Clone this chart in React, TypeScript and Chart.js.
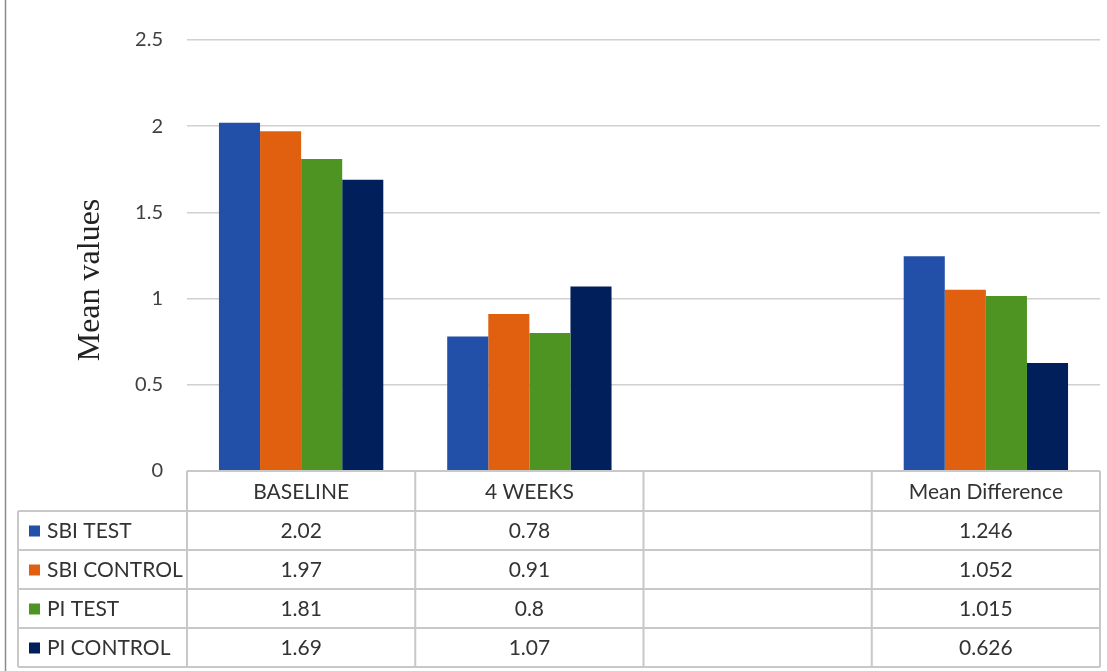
import React, { useEffect, useRef } from 'react';
import { Chart, registerables } from 'chart.js';

Chart.register(...registerables);

const categories = ['BASELINE', '4 WEEKS', '', 'Mean Difference'];
const seriesNames = ['SBI TEST', 'SBI CONTROL', 'PI TEST', 'PI CONTROL'];
const sbiTest = [2.02, 0.78, null, 1.246];
const sbiControl = [1.97, 0.91, null, 1.052];
const piTest = [1.81, 0.8, null, 1.015];
const piControl = [1.69, 1.07, null, 0.626];
const seriesColors = ['#2250A8', '#E06010', '#4E9423', '#001F5B'];
const yTicks = [0, 0.5, 1, 1.5, 2, 2.5];
const yTitle = 'Mean values';

const FONT = 'Lato';
const TEXT = '#333333';
const LINE = '#C8C8C8';

const tablePlugin = {
  id: 'dataTable',
  afterDraw(chart: any) {
    const { ctx, chartArea, scales } = chart;
    const xs = scales.x;
    const n = categories.length;
    const half = (xs.getPixelForTick(1) - xs.getPixelForTick(0)) / 2;
    const edges: number[] = [];
    for (let i = 0; i < n; i++) edges.push(xs.getPixelForTick(i) - half);
    edges.push(xs.getPixelForTick(n - 1) + half);
    const top = chartArea.bottom;
    const headerH = 40;
    const rowH = 39;
    const tableLeft = 18;
    const rowsTop = top + headerH;
    const bottom = rowsTop + rowH * seriesNames.length;
    const data = [sbiTest, sbiControl, piTest, piControl];

    ctx.save();
    // page border line
    ctx.strokeStyle = '#8A8A8A';
    ctx.lineWidth = 1.5;
    ctx.beginPath();
    ctx.moveTo(5.5, 0);
    ctx.lineTo(5.5, chart.height);
    ctx.stroke();

    ctx.strokeStyle = LINE;
    ctx.lineWidth = 2;
    ctx.beginPath();
    ctx.moveTo(edges[0], top);
    ctx.lineTo(edges[n], top);
    for (let r = 0; r <= seriesNames.length; r++) {
      const y = rowsTop + r * rowH;
      ctx.moveTo(tableLeft, y);
      ctx.lineTo(edges[n], y);
    }
    ctx.moveTo(tableLeft, rowsTop);
    ctx.lineTo(tableLeft, bottom);
    for (const e of edges) {
      ctx.moveTo(e, top);
      ctx.lineTo(e, bottom);
    }
    ctx.stroke();

    ctx.fillStyle = TEXT;
    ctx.font = `21px ${FONT}`;
    ctx.textAlign = 'center';
    ctx.textBaseline = 'middle';
    for (let i = 0; i < n; i++) {
      const cx = (edges[i] + edges[i + 1]) / 2;
      ctx.fillText(categories[i], cx, top + headerH / 2 + 1);
      for (let r = 0; r < seriesNames.length; r++) {
        const v = data[r][i];
        if (v !== null && v !== undefined) {
          ctx.fillText(String(v), cx, rowsTop + r * rowH + rowH / 2 + 1);
        }
      }
    }
    ctx.textAlign = 'left';
    for (let r = 0; r < seriesNames.length; r++) {
      const cy = rowsTop + r * rowH + rowH / 2;
      ctx.fillStyle = seriesColors[r];
      ctx.fillRect(29, cy - 5, 11, 11);
      ctx.fillStyle = TEXT;
      ctx.fillText(seriesNames[r], 47, cy + 1);
    }

    // y axis title
    ctx.save();
    ctx.translate(91, 280);
    ctx.rotate(-Math.PI / 2);
    ctx.font = '32px "Liberation Serif"';
    ctx.fillStyle = '#222222';
    ctx.textAlign = 'center';
    ctx.textBaseline = 'middle';
    ctx.fillText(yTitle, 0, 0);
    ctx.restore();
    ctx.restore();
  },
};

export default function App() {
  const ref = useRef<HTMLCanvasElement | null>(null);
  useEffect(() => {
    if (!ref.current) return;
    const dataSets = [sbiTest, sbiControl, piTest, piControl];
    const chart = new Chart(ref.current, {
      type: 'bar',
      data: {
        labels: categories,
        datasets: dataSets.map((d, i) => ({
          label: seriesNames[i],
          data: d,
          backgroundColor: seriesColors[i],
          borderWidth: 0,
          categoryPercentage: 0.72,
          barPercentage: 1.0,
        })),
      },
      options: {
        animation: false,
        responsive: false,
        layout: { padding: { top: 40, right: 7, left: 0, bottom: 0 } },
        plugins: { legend: { display: false }, tooltip: { enabled: false } },
        scales: {
          x: {
            grid: { display: false },
            border: { display: false },
            ticks: { display: false },
            afterFit: (s: any) => { s.height = 200; },
          },
          y: {
            min: 0,
            max: 2.5,
            afterBuildTicks: (s: any) => { s.ticks = yTicks.map((v) => ({ value: v })); },
            afterFit: (s: any) => { s.width = 187; },
            grid: { color: '#D0D0D0', lineWidth: 1.5, drawTicks: false },
            border: { display: false },
            ticks: {
              padding: 24,
              color: '#404040',
              font: { family: FONT, size: 20 },
              callback: (v: any) => String(v),
            },
          },
        },
      },
      plugins: [tablePlugin],
    });
    return () => chart.destroy();
  }, []);
  return (
    <div style={{ position: 'absolute', left: 0, top: 0, width: 1107, height: 671, background: '#fff' }}>
      <canvas ref={ref} width={1107} height={671} />
    </div>
  );
}
